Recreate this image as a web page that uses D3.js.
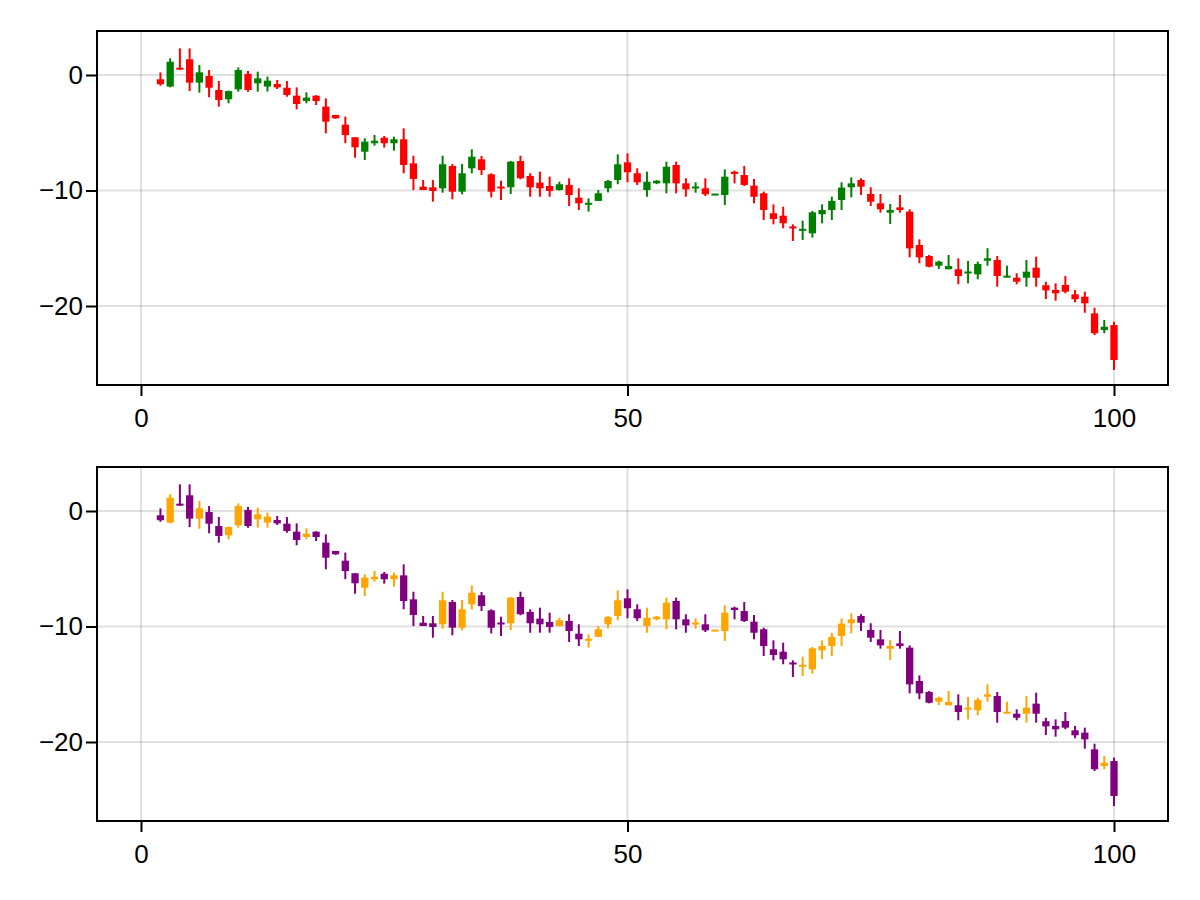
<!DOCTYPE html>
<html>
<head>
<meta charset="utf-8">
<script src="https://cdn.jsdelivr.net/npm/d3@7"></script>
<style>
  html, body { margin: 0; padding: 0; background: #fff; }
  svg { display: block; }
  text { font-family: "Liberation Sans", Arial, Helvetica, sans-serif; }
</style>
</head>
<body>
<svg id="chart" width="1200" height="900"></svg>
<script>
const xs = [2,3,4,5,6,7,8,9,10,11,12,13,14,15,16,17,18,19,20,21,22,23,24,25,26,27,28,29,30,31,32,33,34,35,36,37,38,39,40,41,42,43,44,45,46,47,48,49,50,51,52,53,54,55,56,57,58,59,60,61,62,63,64,65,66,67,68,69,70,71,72,73,74,75,76,77,78,79,80,81,82,83,84,85,86,87,88,89,90,91,92,93,94,95,96,97,98,99,100];
const opens = [-0.37,-1.0,0.6,1.36,-0.66,-0.09,-1.3,-2.1,-1.24,0.1,-0.72,-1.0,-0.78,-1.1,-1.79,-2.25,-1.79,-2.74,-3.46,-4.3,-5.39,-6.64,-5.91,-5.43,-5.91,-5.57,-7.65,-9.67,-9.72,-9.81,-7.88,-10.1,-8.08,-7.3,-8.6,-9.67,-9.72,-7.45,-8.74,-9.32,-9.61,-9.96,-9.52,-10.62,-11.2,-10.9,-9.81,-9.09,-7.56,-8.51,-9.96,-9.38,-9.38,-7.79,-9.38,-9.81,-9.81,-10.4,-10.39,-8.37,-8.66,-9.58,-10.24,-11.97,-12.18,-13.13,-13.45,-13.71,-12.06,-11.69,-10.82,-9.72,-9.09,-10.3,-11.11,-11.92,-11.46,-11.83,-14.72,-15.67,-16.51,-16.82,-16.82,-17.17,-17.26,-16.08,-16.02,-17.52,-17.55,-17.55,-16.68,-18.2,-18.61,-18.18,-18.99,-19.19,-20.64,-22.08,-21.65];
const highs = [0.23,1.45,2.31,2.31,0.87,0.43,-0.52,-1.35,0.66,0.35,0.29,-0.14,-0.43,-0.52,-1.07,-1.5,-1.75,-2.02,-3.46,-3.6,-5.39,-5.48,-5.19,-5.28,-5.34,-4.62,-6.99,-9.09,-9.09,-6.99,-7.71,-7.7,-6.43,-7.01,-8.51,-9.15,-7.45,-6.99,-8.51,-8.37,-8.8,-9.24,-8.94,-9.81,-10.68,-9.96,-9.09,-6.87,-6.78,-8.08,-8.37,-9.1,-7.5,-7.5,-8.94,-9.29,-8.94,-10.3,-8.17,-8.28,-7.88,-9.0,-10.1,-11.2,-11.4,-12.93,-12.61,-11.77,-11.2,-10.54,-9.29,-8.86,-8.94,-9.72,-10.3,-11.17,-10.39,-11.63,-14.23,-15.58,-16.08,-15.58,-15.87,-16.1,-16.16,-15.0,-15.67,-16.51,-17.17,-16.02,-15.73,-17.9,-18.04,-17.4,-18.61,-18.76,-20.15,-21.21,-21.36];
const lows = [-0.93,-1.07,0.45,-1.39,-1.53,-1.93,-2.74,-2.45,-1.44,-1.45,-1.44,-1.44,-1.21,-1.88,-2.97,-2.45,-2.6,-5.05,-3.8,-5.9,-7.16,-7.36,-6.12,-6.29,-6.55,-8.51,-9.96,-9.96,-10.97,-10.19,-10.76,-10.33,-8.51,-8.66,-10.6,-10.82,-10.3,-9.03,-10.54,-10.54,-10.54,-10.0,-11.34,-11.69,-11.83,-10.9,-10.16,-9.46,-9.29,-9.52,-10.54,-9.45,-10.24,-10.24,-10.54,-10.19,-10.48,-10.4,-11.26,-9.38,-9.61,-11.11,-12.55,-12.93,-13.27,-14.37,-14.28,-14.08,-12.84,-12.55,-11.69,-10.59,-10.39,-11.34,-11.92,-12.9,-11.92,-15.79,-16.3,-16.65,-16.8,-16.82,-18.12,-18.04,-17.69,-16.51,-18.33,-17.52,-18.12,-18.33,-18.33,-19.4,-19.54,-18.9,-19.68,-20.58,-22.51,-22.36,-25.54];
const closes = [-0.8,1.15,0.5,-0.66,0.23,-1.1,-2.16,-1.39,0.43,-1.3,-0.29,-0.49,-1.07,-1.73,-2.51,-1.96,-2.25,-4.04,-3.75,-5.2,-6.26,-5.77,-5.69,-5.91,-5.57,-7.79,-9.0,-9.96,-10.04,-7.73,-10.1,-8.51,-7.07,-8.23,-10.1,-9.81,-7.5,-8.94,-9.72,-9.81,-10.04,-9.46,-10.39,-11.11,-11.1,-10.24,-9.18,-7.73,-8.42,-9.29,-9.24,-9.15,-7.94,-9.38,-9.9,-9.67,-10.33,-10.3,-8.8,-8.57,-9.52,-10.54,-11.69,-12.47,-12.84,-13.27,-13.36,-11.89,-11.69,-10.9,-9.75,-9.38,-9.67,-10.97,-11.63,-11.69,-11.69,-15.01,-15.79,-16.6,-16.16,-16.54,-17.4,-17.03,-16.36,-15.87,-17.4,-17.4,-17.9,-17.03,-17.55,-18.65,-18.9,-18.76,-19.42,-19.77,-22.36,-21.79,-24.68];

const xTicks = [0, 50, 100];
const yTicks = [0, -10, -20];
const panels = [
  { top: 31, upColor: "green", downColor: "red" },
  { top: 467, upColor: "orange", downColor: "purple" }
];

const data = xs.map((x, i) => ({ x, o: opens[i], h: highs[i], l: lows[i], c: closes[i] }));

const svg = d3.select("#chart");
svg.append("rect").attr("width", 1200).attr("height", 900).attr("fill", "#fff");

const left = 97, right = 1168, ph = 354;
const fs = 26;
const x = d3.scaleLinear().domain([-4.52, 105.55]).range([left, right]);
const bodyW = x(0.75) - x(0);
const fmt = v => (v < 0 ? "\u2212" + Math.abs(v) : String(v));

panels.forEach(p => {
  const y = d3.scaleLinear().domain([-26.84, 3.81]).range([p.top + ph, p.top]);
  const g = svg.append("g");

  // grid
  g.selectAll(".gx").data(xTicks).join("line")
    .attr("x1", d => x(d)).attr("x2", d => x(d))
    .attr("y1", p.top).attr("y2", p.top + ph)
    .attr("stroke", "rgba(0,0,0,0.12)").attr("stroke-width", 2);
  g.selectAll(".gy").data(yTicks).join("line")
    .attr("y1", d => y(d)).attr("y2", d => y(d))
    .attr("x1", left).attr("x2", right)
    .attr("stroke", "rgba(0,0,0,0.12)").attr("stroke-width", 2);

  // candles
  const cg = g.append("g");
  data.forEach(d => {
    const col = d.c >= d.o ? p.upColor : p.downColor;
    cg.append("line")
      .attr("x1", x(d.x)).attr("x2", x(d.x))
      .attr("y1", y(d.h)).attr("y2", y(d.l))
      .attr("stroke", col).attr("stroke-width", 2);
    const yt = y(Math.max(d.o, d.c)), yb = y(Math.min(d.o, d.c));
    const hgt = Math.max(yb - yt, 2);
    cg.append("rect")
      .attr("x", x(d.x) - bodyW / 2).attr("width", bodyW)
      .attr("y", (yt + yb) / 2 - hgt / 2).attr("height", hgt)
      .attr("fill", col);
  });

  // frame
  g.append("rect").attr("x", left).attr("y", p.top).attr("width", right - left).attr("height", ph)
    .attr("fill", "none").attr("stroke", "#000").attr("stroke-width", 2);

  // x axis
  const xa = d3.axisBottom(x).tickValues(xTicks).tickSize(10).tickPadding(13).tickFormat(fmt);
  const gx = g.append("g").attr("transform", `translate(0,${p.top + ph + 1})`).call(xa);
  gx.select(".domain").remove();
  gx.selectAll(".tick line").attr("stroke-width", 2);
  gx.selectAll(".tick text").attr("font-size", fs).attr("fill", "#000")
    .attr("font-family", "'Liberation Sans', Arial, sans-serif");

  // y axis
  const ya = d3.axisLeft(y).tickValues(yTicks).tickSize(10).tickPadding(3).tickFormat(fmt);
  const gy = g.append("g").attr("transform", `translate(${left - 1},0)`).call(ya);
  gy.select(".domain").remove();
  gy.selectAll(".tick line").attr("stroke-width", 2);
  gy.selectAll(".tick text").attr("font-size", fs).attr("fill", "#000")
    .attr("font-family", "'Liberation Sans', Arial, sans-serif");
});
</script>
</body>
</html>
